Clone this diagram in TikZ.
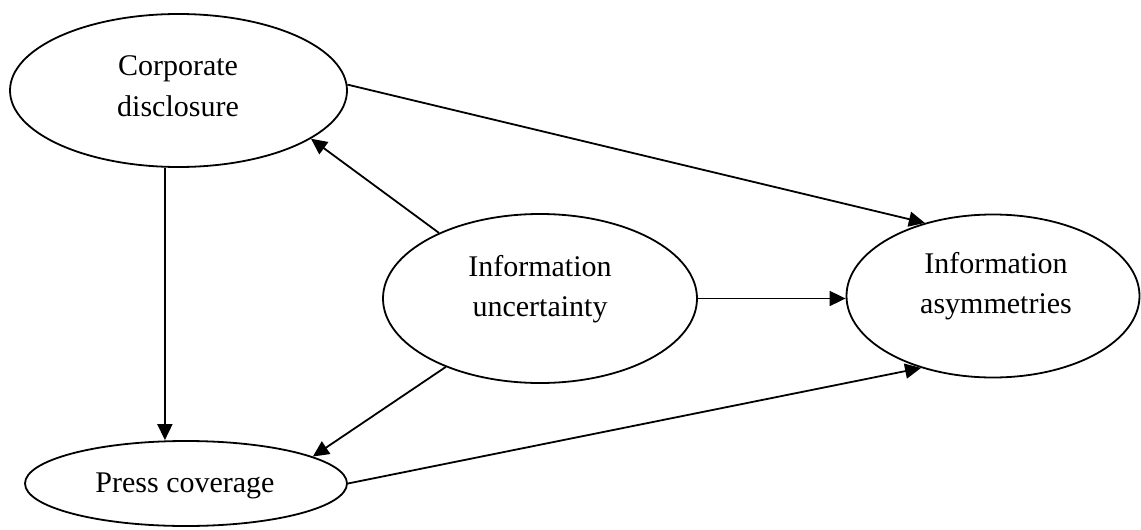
\documentclass[tikz,border=0pt]{standalone}
\usepackage{fontspec}
\setmainfont{Liberation Serif}
\usetikzlibrary{shapes.geometric,arrows.meta}
\tikzset{
  ell/.style={ellipse, draw, line width=1.8pt, inner sep=0pt},
  lbl/.style={align=center, inner sep=0pt, font=\fontsize{30}{40.5}\selectfont},
  arr/.style={line width=1.8pt, -{Triangle[length=16pt,width=15pt]}},
}
\begin{document}
\begin{tikzpicture}[x=1pt,y=-1pt]
\useasboundingbox (0,0) rectangle (1141,530);
\node[ell, minimum width=337pt, minimum height=153pt] (cd) at (178.5,90.5) {};
\node[ell, minimum width=314pt, minimum height=169pt] (iu) at (540,298.5) {};
\node[ell, minimum width=293pt, minimum height=163pt] (ia) at (993,296) {};
\node[ell, minimum width=322pt, minimum height=85pt] (pc) at (186,483.5) {};
\node[lbl] (cdt) at (178,86) {Corporate\\disclosure};
\node[lbl] (iut) at (540,289) {Information\\uncertainty};
\node[lbl] (iat) at (996,286) {Information\\asymmetries};
\node[lbl, anchor=base] (pct) at (185,492) {Press coverage};
\draw[arr] (cd.2.6) -- (ia.133.8);
\draw[arr] (iu.147.4) -- (cd.-20.8);
\draw[arr] (iu.east) -- (iu.east -| ia.west);
\draw[arr] (iu.216.2) -- (pc.12.9);
\draw[arr] (pc.east) -- (ia.225.8);
\draw[arr] (cd.-100) -- (cd.-100 |- pc.north);
\end{tikzpicture}
\end{document}
